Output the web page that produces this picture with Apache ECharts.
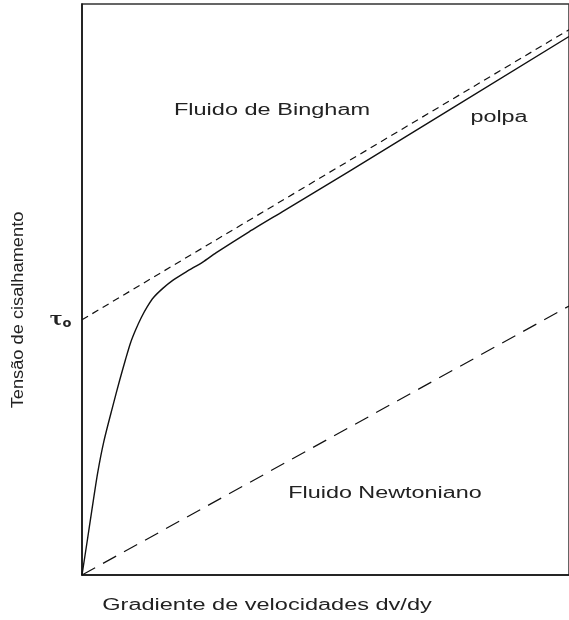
<!DOCTYPE html>
<html lang="pt">
<head>
	<meta charset="UTF-8">
	<title>Fluido de Bingham</title>
	<style>
	body, div {
		margin: 0;
		padding: 0;
	}
	#echart {
		width: 569px;
		height: 620px;
		background: #fff;
	}
	</style>
</head>
<body>
	<div id="echart"></div>

	<script src="https://cdn.jsdelivr.net/npm/echarts@6/dist/echarts.min.js"></script>

	<script>
// dados (escala 0-100 nos dois eixos)
var polpaX = [0, 1.08, 1.98, 3.2, 4.49, 6.27, 7.76, 8.92, 9.94, 11.0, 12.18, 13.41, 14.69, 16.59, 18.63, 21.4, 24.8, 27.5, 34.3, 41.1, 54.7, 100];
var polpaY = [0, 6.0, 11.1, 17.8, 23.4, 29.4, 34.2, 37.7, 40.6, 42.9, 45.1, 47.0, 48.6, 50.2, 51.6, 53.1, 54.8, 56.4, 60.1, 63.6, 70.6, 94.3];
var binghamX = [0, 100];
var binghamY = [44.7, 95.5];
var newtonX = [0, 100];
var newtonY = [0, 47.1];
var tau0 = 44.7;
var tau0Label = 'τ{s|o}';

function pares(xs, ys) {
	return xs.map(function (x, i) { return [x, ys[i]]; });
}

var myEchart = echarts.init(document.getElementById('echart'));

var txt = {
	font: '16px "Liberation Sans", Arial, sans-serif',
	fill: '#222',
	textAlign: 'center',
	textVerticalAlign: 'middle'
};

option = {
	animation: false,
	backgroundColor: '#fff',
	grid: {
		show: true,
		left: 82,
		right: -4,
		top: 4,
		bottom: 45,
		borderColor: '#333',
		borderWidth: 1.5
	},
	xAxis: {
		type: 'value',
		min: 0,
		max: 100,
		axisLine: { show: true, lineStyle: { color: '#111', width: 1.5 } },
		axisTick: { show: false },
		axisLabel: { show: false },
		splitLine: { show: false }
	},
	yAxis: {
		type: 'value',
		min: 0,
		max: 100,
		axisLine: { show: true, lineStyle: { color: '#111', width: 1.5 } },
		axisTick: { show: false },
		axisLabel: { show: false },
		splitLine: { show: false }
	},
	graphic: [
		{ type: 'text', x: 272, y: 111, scaleX: 1.47, style: Object.assign({ text: 'Fluido de Bingham' }, txt) },
		{ type: 'text', x: 499, y: 118, scaleX: 1.46, style: Object.assign({ text: 'polpa' }, txt) },
		{ type: 'text', x: 385, y: 494, scaleX: 1.46, style: Object.assign({ text: 'Fluido Newtoniano' }, txt) },
		{ type: 'text', x: 267, y: 606, scaleX: 1.47, style: Object.assign({ text: 'Gradiente de velocidades dv/dy' }, txt) },
		{ type: 'text', x: 19, y: 310, rotation: Math.PI / 2, scaleX: 1.14, style: Object.assign({ text: 'Tensão de cisalhamento' }, txt) }
	],
	series: [
		{
			name: 'polpa',
			type: 'line',
			symbol: 'none',
			smooth: 0.25,
			lineStyle: { color: '#111', width: 1.4, join: 'round' },
			data: pares(polpaX, polpaY)
		},
		{
			name: 'Fluido de Bingham',
			type: 'line',
			symbol: 'none',
			lineStyle: { color: '#111', width: 1.2, type: [7, 5] },
			data: pares(binghamX, binghamY),
			markPoint: {
				symbol: 'circle',
				symbolSize: 1,
				itemStyle: { color: 'rgba(0,0,0,0)' },
				label: {
					show: true,
					position: 'left',
					distance: 10,
					formatter: tau0Label,
					color: '#222',
					fontSize: 19,
					fontWeight: 'bold',
					fontFamily: 'DejaVu Serif',
					rich: {
						s: { fontSize: 13, fontWeight: 'bold', fontFamily: 'DejaVu Sans', color: '#222', padding: [7, 0, 0, 0] }
					}
				},
				data: [{ coord: [0, tau0] }]
			}
		},
		{
			name: 'Fluido Newtoniano',
			type: 'line',
			symbol: 'none',
			lineStyle: { color: '#111', width: 1.2, type: [15, 9] },
			data: pares(newtonX, newtonY)
		}
	]
};

myEchart.setOption(option);
	</script>
</body>
</html>
